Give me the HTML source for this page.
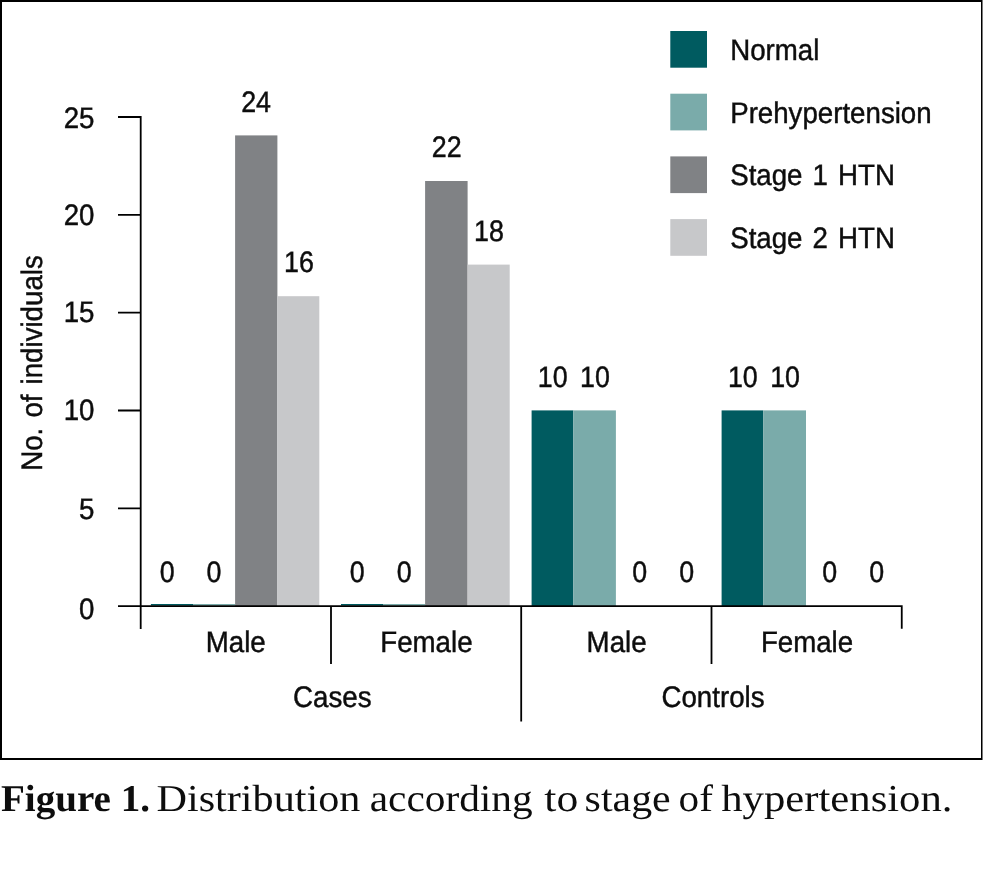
<!DOCTYPE html>
<html lang="en">
<head>
<meta charset="utf-8">
<title>Figure 1. Distribution according to stage of hypertension.</title>
<style>
  html, body { margin: 0; padding: 0; background: #ffffff; }
  body { width: 983px; height: 871px; overflow: hidden; position: relative; }
  svg { display: block; position: absolute; left: 0; top: 0; }
  text { text-rendering: geometricPrecision; }
  .sans { font-family: "Liberation Sans", sans-serif; font-size: 29.6px; fill: #0d0d0d; stroke: #0d0d0d; stroke-width: 0.45px; word-spacing: 2.6px; }
  .serif { font-family: "Liberation Serif", serif; font-size: 38px; fill: #0d0d0d; }
  .b { font-weight: bold; }
  .ax { stroke: #000; stroke-width: 1.8; fill: none; }
</style>
</head>
<body>
<svg width="983" height="871" viewBox="0 0 983 871">
  <rect x="0" y="0" width="983" height="871" fill="#ffffff"/>

  <!-- outer frame -->
  <rect x="0" y="0" width="983" height="2" fill="#000"/>
  <rect x="0" y="0" width="2" height="760" fill="#000"/>
  <rect x="0" y="758" width="983" height="2" fill="#000"/>
  <rect x="981" y="0" width="1" height="760" fill="#000"/>
  <rect x="982" y="0" width="1" height="760" fill="#7a7a7a"/>

  <!-- bars -->
  <rect x="150.9" y="604.0" width="42.1" height="1.6" fill="#005b60"/>
  <rect x="193.0" y="604.0" width="42.1" height="1.6" fill="#7aabaa"/>
  <rect x="235.1" y="135.4" width="42.3" height="470.8" fill="#808285"/>
  <rect x="277.4" y="296.2" width="41.9" height="310.0" fill="#c7c8ca"/>
  <rect x="341.0" y="604.0" width="42.0" height="1.6" fill="#005b60"/>
  <rect x="383.0" y="604.0" width="42.1" height="1.6" fill="#7aabaa"/>
  <rect x="425.1" y="181.0" width="42.5" height="425.2" fill="#808285"/>
  <rect x="467.6" y="264.6" width="42.1" height="341.6" fill="#c7c8ca"/>
  <rect x="531.6" y="410.4" width="41.7" height="195.8" fill="#005b60"/>
  <rect x="573.3" y="410.4" width="42.6" height="195.8" fill="#7aabaa"/>
  <rect x="721.6" y="410.4" width="41.6" height="195.8" fill="#005b60"/>
  <rect x="763.2" y="410.4" width="42.8" height="195.8" fill="#7aabaa"/>

  <!-- axes -->
  <path class="ax" d="M118 117.0H140.7V628.9"/>
  <path class="ax" d="M118 214.84H140.7M118 312.68H140.7M118 410.52H140.7M118 508.36H140.7"/>
  <path class="ax" d="M118 606.2H901.75V628.8"/>
  <path class="ax" d="M331 606.2V663.9M521.2 606.2V721.6M711.5 606.2V663.9"/>

  <g class="sans">
  <!-- y tick labels -->
    <text text-anchor="end" transform="translate(94.4 128.0) scale(0.9346 1)">25</text>
    <text text-anchor="end" transform="translate(94.4 225.0) scale(0.9346 1)">20</text>
    <text text-anchor="end" transform="translate(94.4 322.0) scale(0.9346 1)">15</text>
    <text text-anchor="end" transform="translate(94.4 420.0) scale(0.9346 1)">10</text>
    <text text-anchor="end" transform="translate(94.4 519.0) scale(0.9346 1)">5</text>
    <text text-anchor="end" transform="translate(94.4 619.0) scale(0.9346 1)">0</text>
  <!-- y axis title -->
    <text text-anchor="middle" transform="translate(42.0 363.0) rotate(-90) scale(0.9346 1)">No. of individuals</text>
  <!-- value labels -->
    <text text-anchor="middle" transform="translate(167.1 582.0) scale(0.9066 1)">0</text>
    <text text-anchor="middle" transform="translate(214.0 582.0) scale(0.9066 1)">0</text>
    <text text-anchor="middle" transform="translate(256.1 112.0) scale(0.9066 1)">24</text>
    <text text-anchor="middle" transform="translate(299.0 272.0) scale(0.9066 1)">16</text>
    <text text-anchor="middle" transform="translate(357.3 582.0) scale(0.9066 1)">0</text>
    <text text-anchor="middle" transform="translate(404.3 582.0) scale(0.9066 1)">0</text>
    <text text-anchor="middle" transform="translate(446.7 157.0) scale(0.9066 1)">22</text>
    <text text-anchor="middle" transform="translate(489.0 241.0) scale(0.9066 1)">18</text>
    <text text-anchor="middle" transform="translate(552.7 387.0) scale(0.9066 1)">10</text>
    <text text-anchor="middle" transform="translate(595.0 387.0) scale(0.9066 1)">10</text>
    <text text-anchor="middle" transform="translate(639.8 582.0) scale(0.9066 1)">0</text>
    <text text-anchor="middle" transform="translate(686.8 582.0) scale(0.9066 1)">0</text>
    <text text-anchor="middle" transform="translate(742.8 387.0) scale(0.9066 1)">10</text>
    <text text-anchor="middle" transform="translate(785.1 387.0) scale(0.9066 1)">10</text>
    <text text-anchor="middle" transform="translate(829.8 582.0) scale(0.9066 1)">0</text>
    <text text-anchor="middle" transform="translate(876.8 582.0) scale(0.9066 1)">0</text>
  <!-- category labels -->
    <text text-anchor="middle" transform="translate(235.7 652.0) scale(0.9346 1)">Male</text>
    <text text-anchor="middle" transform="translate(426.4 652.0) scale(0.9346 1)">Female</text>
    <text text-anchor="middle" transform="translate(616.6 652.0) scale(0.9346 1)">Male</text>
    <text text-anchor="middle" transform="translate(807.0 652.0) scale(0.9346 1)">Female</text>
    <text text-anchor="middle" transform="translate(332.3 707.0) scale(0.9346 1)">Cases</text>
    <text text-anchor="middle" transform="translate(713.0 707.0) scale(0.9346 1)">Controls</text>
  <!-- legend labels -->
    <text transform="translate(730.2 60.0) scale(0.9346 1)">Normal</text>
    <text transform="translate(730.2 123.0) scale(0.9346 1)">Prehypertension</text>
    <text transform="translate(730.2 185.0) scale(0.9346 1)">Stage 1 HTN</text>
    <text transform="translate(730.2 248.0) scale(0.9346 1)">Stage 2 HTN</text>
  </g>

  <!-- legend swatches -->
  <rect x="670.3" y="31.0" width="36.7" height="36.7" fill="#005b60"/>
  <rect x="670.3" y="93.7" width="36.7" height="36.7" fill="#7aabaa"/>
  <rect x="670.3" y="156.4" width="36.7" height="36.7" fill="#808285"/>
  <rect x="670.3" y="219.1" width="36.7" height="36.7" fill="#c7c8ca"/>

  <!-- caption -->
  <g class="serif">
    <text class="b" transform="translate(1.0 811) scale(1.028 1)">Figure 1.</text>
    <text transform="translate(156.5 811) scale(1.110 1)">Distribution</text>
    <text transform="translate(369.7 811) scale(1.088 1)">according</text>
    <text transform="translate(544.3 811) scale(1.148 1)">to</text>
    <text transform="translate(584.6 811) scale(1.103 1)">stage</text>
    <text transform="translate(678.6 811) scale(1.083 1)">of</text>
    <text transform="translate(721.2 811) scale(1.124 1)">hypertension.</text>
  </g>
</svg>
</body>
</html>
